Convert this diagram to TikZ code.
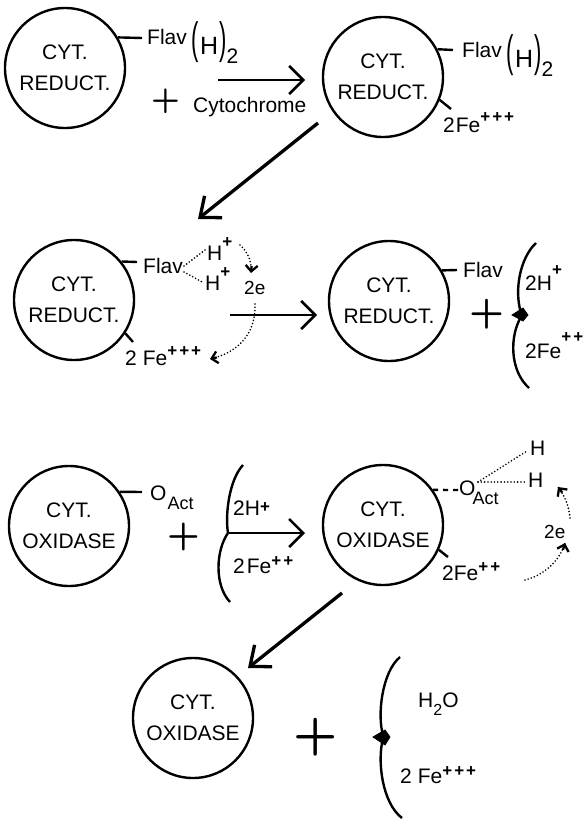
\documentclass[tikz,border=0pt]{standalone}
\usepackage{fontspec}
\setmainfont{Liberation Sans}
\newfontfamily\plusfont{lmromandemi10-regular}[Extension=.otf]
\usetikzlibrary{arrows.meta,calc}

% charge signs set small, bold and raised
\newcommand\chg[2]{\raisebox{#1}{\fontsize{17}{17}\selectfont\bfseries #2}}
\newcommand\tri{+\kern2pt+\kern2pt+}
\newcommand\duo{+\kern2pt+}
% tall, narrow parentheses
\newcommand\tallparen[1]{\raisebox{-9pt}{\scalebox{0.5}[1]{\fontsize{44}{44}\selectfont #1}}}
\newcommand\FlavHtwo{Flav\kern5pt\tallparen{(}\kern1pt\raisebox{-10pt}{\fontsize{25}{25}\selectfont H}\kern1pt\tallparen{)}\raisebox{-19pt}{2}}
\newcommand\Oact[1]{O\kern#1\raisebox{-9pt}{\fontsize{18}{18}\selectfont Act}}
% solid head at the end of a dotted curve: #1 last control point, #2 end point
\newcommand\headat[2]{\draw[dothead] ($(#2)!7pt!(#1)$) -- (#2);}

\tikzset{
  enzyme/.style={circle, draw, line width=2.4pt, minimum size=120pt, inner sep=0pt,
    align=center, font=\fontsize{21}{31}\selectfont},
  lbl/.style={font=\fontsize{21}{24}\selectfont, inner sep=0pt, anchor=base west},
  small/.style={font=\fontsize{19}{19}\selectfont, inner sep=0pt, anchor=base west},
  stub/.style={line width=2.4pt},
  bigarrow/.style={line width=3.3pt, -{Straight Barb[length=17pt,width=28pt]}},
  reacarrow/.style={line width=2.6pt, -{Straight Barb[length=14pt,width=28pt]}},
  dots/.style={line width=1.8pt, line cap=round, dash pattern=on 0pt off 3.3pt},
  dothead/.style={line width=2.3pt, -{Straight Barb[length=6pt,width=12pt]}},
  brace/.style={line width=2.4pt},
  plussign/.style={inner sep=0pt, font=\plusfont\fontsize{#1}{#1}\selectfont},
  blob/.style={fill=black, draw=black, line width=0.8pt}
}

\begin{document}
\begin{tikzpicture}[x=1pt,y=-1pt]
\useasboundingbox (0,0) rectangle (585,819);

% ---------- enzyme circles ----------
\node[enzyme] (c1) at (65,68)   {CYT.\\REDUCT.};
\node[enzyme] (c2) at (383,77)  {CYT.\\REDUCT.};
\node[enzyme] (c3) at (74,300)  {CYT.\\REDUCT.};
\node[enzyme] (c4) at (389,301) {CYT.\\REDUCT.};
\node[enzyme] (c5) at (69,526)  {CYT.\\OXIDASE};
\node[enzyme] (c6) at (383,525) {CYT.\\OXIDASE};
\node[enzyme] (c7) at (193,718) {CYT.\\OXIDASE};

% ---------- row 1 ----------
\node[lbl] (f1) at (147,44) {\FlavHtwo};
\coordinate (t1) at (142,38);
\draw[stub] (c1.30) -- (t1);
\node[plussign=37] (p1) at (166,101) {+};
\node[lbl] (cyto) at (193,112) {Cytochrome};
\coordinate (a1s) at (218,80);
\coordinate (a1e) at (305,80);
\draw[reacarrow] (a1s) -- (a1e);

\node[lbl] (f2) at (462,57) {\FlavHtwo};
\coordinate (t2) at (453,50);
\draw[stub] (c2.27) -- (t2);
\node[lbl] (fe2) at (443,132) {2\kern1pt Fe\chg{10pt}{\tri}};
\coordinate (t2b) at (451,109);
\draw[stub] (c2.-22) -- (t2b);

% step down to row 2
\coordinate (d1s) at (318,123);
\coordinate (d1e) at (198,219);
\draw[bigarrow] (d1s) -- (d1e);

% ---------- row 2 ----------
\node[lbl] (f3) at (143,273) {Flav};
\coordinate (t3) at (137,262);
\draw[stub] (c3.39) -- (t3);
\node[lbl] (h3a) at (207,260) {H\chg{13pt}{+}};
\node[lbl] (h3b) at (205,290) {H\chg{13pt}{+}};
\coordinate (f3a) at (184,266);
\coordinate (f3b) at (184,272);
\coordinate (h3ae) at (205,250);
\coordinate (h3be) at (204,283);
\draw[dots] (f3a) -- (h3ae);
\draw[dots] (f3b) -- (h3be);
\node[small] (e3) at (244,294) {2e};
\coordinate (e3a) at (240,245);
\coordinate (e3ac) at (252,262);
\coordinate (e3b) at (251,273);
\draw[dots] (e3a) .. controls (248,252) and (e3ac) .. (e3b);
\headat{e3ac}{e3b}
\coordinate (e3c) at (255,304);
\coordinate (e3cc) at (236,353);
\coordinate (e3d) at (210,359);
\draw[dots] (e3c) .. controls (256,336) and (e3cc) .. (e3d);
\headat{e3cc}{e3d}
\node[lbl] (fe3) at (125,365) {2\kern6pt Fe\chg{9pt}{\tri}};
\coordinate (t3b) at (133,342);
\draw[stub] (c3.-33) -- (t3b);

\coordinate (a2s) at (230,315);
\coordinate (a2e) at (317,315);
\draw[reacarrow] (a2s) -- (a2e);

\node[lbl] (f4) at (463,277) {Flav};
\coordinate (t4) at (457,270);
\draw[stub] (c4.30.5) -- (t4);
\node[plussign=45] (p2) at (487,314) {+};
\draw[brace] (536,243) .. controls (520,258) and (514,290) .. (521,313);
\draw[brace] (521,317) .. controls (510,335) and (509,370) .. (529,388);
\draw[blob] (512,315) -- (523,308) -- (528,315) -- (523,321) -- cycle;
\node[lbl] (h4) at (525,290) {2H\chg{15pt}{+}};
\node[lbl] (fe4) at (525,358) {2Fe\chg{16pt}{\duo}};

% ---------- row 3 ----------
\node[lbl] (o5) at (150,500) {\Oact{1pt}};
\coordinate (t5) at (142,492);
\draw[stub] (c5.34) -- (t5);
\node[plussign=42] (p3) at (184,537) {+};
\draw[brace] (243,465) .. controls (229,480) and (225,515) .. (228,533);
\draw[brace] (228,533) .. controls (216,550) and (214,585) .. (230,602);
\node[lbl] (h5) at (233,515) {2H\chg{3pt}{+}};
\node[lbl] (fe5) at (233,573) {2\kern2pt Fe\chg{7pt}{\duo}};
\coordinate (a3s) at (229,533);
\coordinate (a3e) at (305,533);
\draw[reacarrow] (a3s) -- (a3e);

\node[lbl] (o6) at (459,495) {\Oact{-3pt}};
\coordinate (t6) at (458,490);
\draw[stub, dash pattern=on 5pt off 5pt] (c6.35) -- (t6);
\node[lbl] (h6a) at (530,455) {H};
\node[lbl] (h6b) at (528,487) {H};
\coordinate (o6a) at (478,482);
\coordinate (h6ae) at (527,451);
\coordinate (h6be) at (527,482);
\draw[dots] (o6a) -- (h6ae);
\draw[dots] (o6a) -- (h6be);
\node[small] (e6) at (544,538) {2e};
\coordinate (e6a) at (525,580);
\coordinate (e6ac) at (560,560);
\coordinate (e6b) at (565,543);
\draw[dots] (e6a) .. controls (545,575) and (e6ac) .. (e6b);
\headat{e6ac}{e6b}
\coordinate (e6c) at (570,518);
\coordinate (e6cc) at (564,495);
\coordinate (e6d) at (558,487);
\draw[dots] (e6c) .. controls (569,505) and (e6cc) .. (e6d);
\headat{e6cc}{e6d}
\node[lbl] (fe6) at (442,580) {2Fe\chg{8pt}{\duo}};
\coordinate (t6b) at (448,557);
\draw[stub] (c6.-24) -- (t6b);

% step down to the last line
\coordinate (d2s) at (342,593);
\coordinate (d2e) at (248,668);
\draw[bigarrow] (d2s) -- (d2e);

% ---------- row 4 ----------
\node[plussign=57] (p4) at (316,737) {+};
\draw[brace] (400,657) .. controls (382,672) and (377,715) .. (383,735);
\draw[brace] (383,739) .. controls (377,760) and (382,803) .. (402,818);
\draw[blob] (373,737) -- (385,730) -- (390,737) -- (385,745) -- cycle;
\node[lbl] (w7) at (418,707) {H\raisebox{-8pt}{\fontsize{16}{16}\selectfont 2}O};
\node[lbl] (fe7) at (400,783) {2\kern6pt Fe\chg{7pt}{\tri}};
\end{tikzpicture}
\end{document}
